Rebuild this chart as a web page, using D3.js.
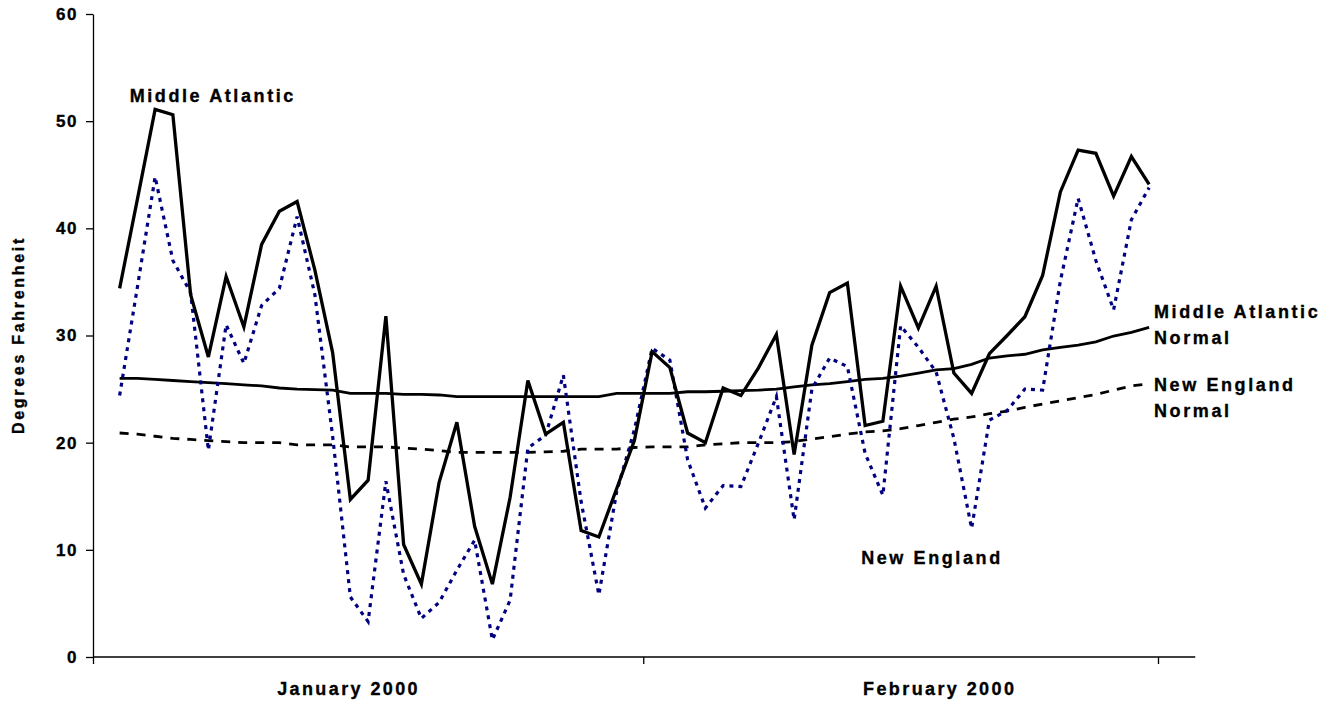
<!DOCTYPE html>
<html><head><meta charset="utf-8">
<script src="https://cdn.jsdelivr.net/npm/d3@7"></script>
<style>
body{margin:0;background:#fff}
text{font-family:"Liberation Sans",Arial,Helvetica,sans-serif;font-weight:bold;fill:#000;stroke:#000;stroke-width:0.35px}
</style>
</head><body>
<svg id="chart" width="1337" height="702"></svg>
<script>
// ---------- DATA ----------
const firstDay = Date.UTC(2000, 0, 2);           // first observation: Jan 2, 2000
const monthStarts = [Date.UTC(2000,0,1), Date.UTC(2000,1,1), Date.UTC(2000,2,1)];
const monthLabels = ["January 2000", "February 2000"];
const yTicks = [0, 10, 20, 30, 40, 50, 60];

const middleAtlantic = [34.4,42.7,51.1,50.6,33.8,28.0,35.5,30.8,38.5,41.6,42.5,36.1,28.4,14.7,16.5,31.8,10.5,6.8,16.3,21.9,
  12.2,6.8,14.9,25.8,20.8,21.9,11.8,11.2,15.7,20.2,28.5,27.0,20.9,20.0,25.1,24.4,27.0,30.1,18.9,29.1,
  34.0,34.9,21.6,22.0,34.6,30.7,34.6,26.5,24.6,28.3,30.0,31.75,35.6,43.4,47.3,47.0,43.0,46.7,44.1];

const newEngland = [24.4,34.5,44.8,37.0,34.0,19.3,31.0,27.4,32.8,34.4,41.1,33.8,20.6,5.6,3.3,16.4,7.7,3.6,5.1,8.1,
  10.9,1.6,5.3,19.5,20.7,26.3,14.5,5.8,15.4,21.2,28.8,27.7,18.4,13.9,16.0,15.9,20.0,24.3,12.8,25.0,
  27.9,27.1,19.0,15.1,30.9,28.9,26.6,20.4,12.0,22.1,23.0,25.0,24.9,35.1,42.8,37.0,32.4,40.8,43.8];

const middleAtlanticNormal = [26.0,26.0,25.9,25.8,25.7,25.6,25.5,25.4,25.3,25.1,25.0,24.95,24.9,24.6,24.6,24.6,24.5,24.5,24.45,24.3,
  24.3,24.3,24.3,24.3,24.3,24.3,24.3,24.3,24.6,24.6,24.6,24.6,24.75,24.75,24.8,24.85,24.9,25.0,25.2,25.4,
  25.5,25.7,25.9,26.0,26.2,26.5,26.8,26.9,27.3,27.9,28.1,28.25,28.65,28.9,29.1,29.4,29.95,30.3,30.75];

const newEnglandNormal = [20.9,20.8,20.6,20.4,20.3,20.2,20.1,20.0,20.0,20.0,19.8,19.8,19.8,19.6,19.6,19.6,19.5,19.4,19.25,19.1,
  19.1,19.1,19.1,19.1,19.15,19.2,19.4,19.4,19.4,19.55,19.6,19.6,19.6,19.8,19.9,20.0,20.0,20.0,20.1,20.35,
  20.55,20.8,21.0,21.1,21.3,21.6,21.9,22.2,22.4,22.7,22.95,23.3,23.6,23.9,24.2,24.5,24.9,25.3,25.5];

// ---------- CHART ----------
const DAY = 864e5;
const svg = d3.select("#chart");
const x = d3.scaleUtc().domain([monthStarts[0], monthStarts[2]]).range([93, 1158]);
const y = d3.scaleLinear().domain([0, 60]).range([657, 14]);
const dayW = x(monthStarts[0] + DAY) - x(monthStarts[0]);
const px = i => x(firstDay + i * DAY + DAY / 2);

const line = d3.line().x((d, i) => px(i)).y(d => y(d));

const series = [
  {data: middleAtlanticNormal, stroke: "#000", width: 2.8, dash: null},
  {data: newEnglandNormal, stroke: "#000", width: 2.8, dash: "9,8"},
  {data: newEngland, stroke: "#000080", width: 3.2, dash: "4,5"},
  {data: middleAtlantic, stroke: "#000", width: 3.3, dash: null}
];
series.forEach(s => {
  svg.append("path").datum(s.data)
    .attr("d", line).attr("fill", "none")
    .attr("stroke", s.stroke).attr("stroke-width", s.width)
    .attr("stroke-linejoin", "miter").attr("stroke-miterlimit", 4)
    .attr("stroke-dasharray", s.dash);
});

// Y axis
const yAxis = svg.append("g").attr("transform", `translate(${x.range()[0]},0)`)
  .call(d3.axisLeft(y).tickValues(yTicks).tickSize(7).tickSizeOuter(0).tickPadding(8).tickFormat(d3.format("d")));
yAxis.select(".domain").attr("stroke", "#000").attr("stroke-width", 1.3);
yAxis.selectAll(".tick line").attr("stroke", "#000").attr("stroke-width", 1.3);
yAxis.selectAll(".tick text").style("font-size", "17px").style("letter-spacing", "1.5px")
  .style("font-family", '"Liberation Sans",Arial,sans-serif').style("font-weight", "bold");

// X axis
const xAxis = svg.append("g").attr("transform", `translate(0,${y(0)})`)
  .call(d3.axisBottom(x).tickValues(monthStarts).tickSize(7).tickSizeOuter(0).tickFormat(""));
xAxis.select(".domain").remove();
xAxis.append("line").attr("x1", x.range()[0]).attr("x2", x.range()[1] + 2.1 * dayW)
  .attr("stroke", "#000").attr("stroke-width", 1.3);
xAxis.selectAll(".tick line").attr("stroke", "#000").attr("stroke-width", 1.3);

const monthLabelOffsetDays = [14.4, 16.7];
monthLabels.forEach((t, i) => {
  svg.append("text").attr("x", x(monthStarts[i]) + monthLabelOffsetDays[i] * dayW)
    .attr("y", 689).attr("dy", "0.35em").attr("text-anchor", "middle")
    .style("font-size", "18px").style("letter-spacing", "2.4px").text(t);
});

// Y title
svg.append("text").attr("transform", "translate(24,335) rotate(-90)")
  .attr("text-anchor", "middle").style("font-size", "16px").style("letter-spacing", "2.7px")
  .text("Degrees Fahrenheit");

// Series labels
const lab = (t, xx, v) => svg.append("text").attr("x", xx).attr("y", y(v)).attr("dy", "0.35em")
  .style("font-size", "18px").style("letter-spacing", "2.6px").text(t);
lab("Middle Atlantic", px(0) + 10, 52.35);
lab("Middle Atlantic", x(monthStarts[2]) - 4, 32.2);
lab("Normal", x(monthStarts[2]) - 4, 29.8);
lab("New England", x(monthStarts[2]) - 4, 25.4);
lab("Normal", x(monthStarts[2]) - 4, 22.95);
lab("New England", px(42) - 4, 9.3);
</script>
</body></html>
